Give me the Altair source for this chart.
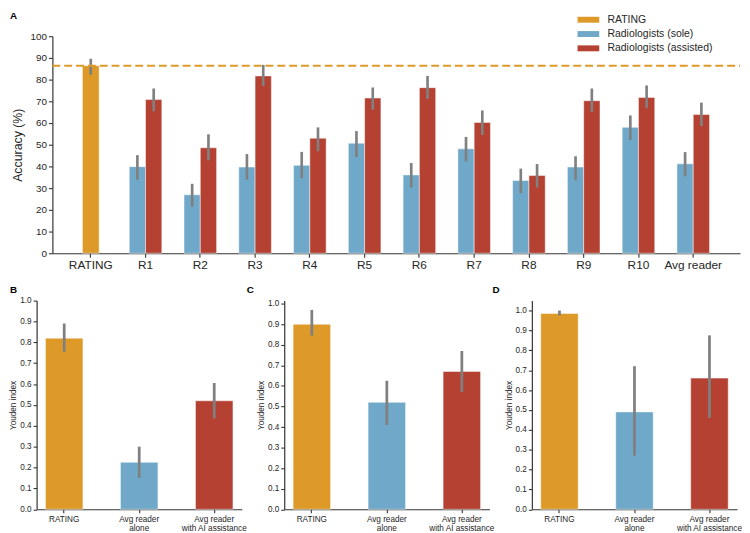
import altair as alt
import pandas as pd

# ---------------- data ----------------
readers = ["R1", "R2", "R3", "R4", "R5", "R6", "R7", "R8", "R9", "R10", "Avg reader"]
categories = ["RATING"] + readers
series_names = ["RATING", "Radiologists (sole)", "Radiologists (assisted)"]
colors = ["#DE9A28", "#6FA8C8", "#B44131"]

rating_acc = [86.4]
rating_lo = [82.2]
rating_hi = [89.6]
rating_ref = [86.4]

sole_acc = [39.9, 26.9, 39.7, 40.5, 50.7, 36.1, 48.1, 33.5, 39.7, 58.0, 41.2]
sole_lo = [33.9, 21.5, 33.9, 34.6, 44.4, 30.3, 42.3, 27.7, 33.6, 52.2, 35.5]
sole_hi = [45.2, 32.0, 45.7, 46.7, 56.3, 41.6, 53.6, 39.0, 44.7, 63.5, 46.6]
assisted_acc = [70.8, 48.6, 81.7, 53.0, 71.5, 76.3, 60.3, 35.8, 70.3, 71.8, 63.9]
assisted_lo = [65.4, 42.8, 77.0, 47.0, 66.1, 71.1, 54.5, 30.3, 65.1, 66.8, 58.6]
assisted_hi = [75.9, 54.8, 86.8, 58.0, 76.4, 81.7, 65.8, 41.1, 75.9, 77.3, 69.4]

youden_groups = ["RATING", "Avg reader\nalone", "Avg reader\nwith AI assistance"]
youden_b = [0.82, 0.225, 0.52]
youden_b_lo = [0.755, 0.15, 0.435]
youden_b_hi = [0.89, 0.30, 0.605]
youden_c = [0.90, 0.52, 0.67]
youden_c_lo = [0.845, 0.41, 0.57]
youden_c_hi = [0.97, 0.625, 0.77]
youden_d = [0.985, 0.49, 0.66]
youden_d_lo = [0.975, 0.27, 0.46]
youden_d_hi = [1.0, 0.72, 0.875]

FONT = "Liberation Sans"
AXIS_COLOR = "#333333"
ERR_COLOR = "#808080"

# ---------------- panel A ----------------
rating_df = pd.DataFrame({"cat": ["RATING"], "series": ["RATING"],
                          "value": rating_acc, "lo": rating_lo, "hi": rating_hi})
reader_df = pd.DataFrame({
    "cat": readers * 2,
    "series": ["Radiologists (sole)"] * len(readers) + ["Radiologists (assisted)"] * len(readers),
    "value": sole_acc + assisted_acc,
    "lo": sole_lo + assisted_lo,
    "hi": sole_hi + assisted_hi,
})
ref_df = pd.DataFrame({"v": rating_ref})
letter_a = pd.DataFrame({"t": ["A"]})

X0_SHIFT = 16
W_TOP = 713
H_TOP = 220

xscale = alt.Scale(domain=categories, range=[X0_SHIFT, W_TOP],
                   paddingInner=0.405, paddingOuter=0.48, align=0.42)
xaxis = alt.Axis(title=None, labelAngle=0, labelFontSize=12, tickSize=4,
                 labelPadding=2, domainWidth=1.2, tickWidth=1.1)
yaxis = alt.Axis(title="Accuracy (%)", values=list(range(0, 101, 10)),
                 offset=-X0_SHIFT, labelFontSize=10, titleFontSize=12.5,
                 tickSize=4, labelPadding=2, titlePadding=6, grid=False,
                 domainWidth=1.2, tickWidth=1.1, titleFontWeight="normal")
yscale = alt.Scale(domain=[0, 100], nice=False)

offset_dom = ["Radiologists (sole)", "Radiologists (assisted)"]

color_top = alt.Color("series:N", scale=alt.Scale(domain=series_names, range=colors),
                      legend=alt.Legend(title=None, orient="none", legendX=554, legendY=-22,
                                        symbolType="M-2.2,-0.6L2.2,-0.6L2.2,0.6L-2.2,0.6Z",
                                        symbolSize=100, symbolStrokeWidth=0,
                                        labelFontSize=10.6, labelOffset=14,
                                        rowPadding=3.5, padding=0, labelColor="#262626"))

bar_style = dict(stroke="white", strokeWidth=0.8, strokeOpacity=0.6)

rating_bar = alt.Chart(rating_df).mark_bar(size=17, **bar_style).encode(
    x=alt.X("cat:N", scale=xscale, axis=xaxis, sort=categories),
    y=alt.Y("value:Q", scale=yscale, axis=yaxis),
    color=color_top,
)
reader_bar = alt.Chart(reader_df).mark_bar(**bar_style).encode(
    x=alt.X("cat:N", scale=xscale, axis=xaxis, sort=categories),
    xOffset=alt.XOffset("series:N", sort=offset_dom,
                        scale=alt.Scale(domain=offset_dom, paddingInner=0, paddingOuter=0)),
    y=alt.Y("value:Q", scale=yscale, axis=yaxis),
    color=color_top,
)
rating_err = alt.Chart(rating_df).mark_rule(color=ERR_COLOR, strokeWidth=2.7).encode(
    x=alt.X("cat:N", scale=xscale, axis=xaxis, sort=categories),
    y=alt.Y("lo:Q", scale=yscale, axis=yaxis),
    y2="hi:Q",
)
reader_err = alt.Chart(reader_df).mark_rule(color=ERR_COLOR, strokeWidth=2.7).encode(
    x=alt.X("cat:N", scale=xscale, axis=xaxis, sort=categories),
    xOffset=alt.XOffset("series:N", sort=offset_dom,
                        scale=alt.Scale(domain=offset_dom, paddingInner=0, paddingOuter=0)),
    y=alt.Y("lo:Q", scale=yscale, axis=yaxis),
    y2="hi:Q",
)
ref_line = alt.Chart(ref_df).mark_rule(color=colors[0], strokeWidth=2.2, strokeDash=[8, 4]).encode(
    y=alt.Y("v:Q", scale=yscale, axis=yaxis),
    x=alt.value(X0_SHIFT),
    x2=alt.value(W_TOP),
)
a_text = alt.Chart(letter_a).mark_text(fontWeight="bold", fontSize=10, align="left",
                                       baseline="top", font=FONT, color="black").encode(
    text="t:N", x=alt.value(-27), y=alt.value(-25))

top = alt.layer(rating_bar, reader_bar, rating_err, reader_err, ref_line, a_text).properties(
    width=W_TOP, height=H_TOP)


# ---------------- panels B, C, D ----------------
def panel(letter, vals, lo, hi, ymax, letter_x):
    df = pd.DataFrame({"grp": youden_groups, "value": vals, "lo": lo, "hi": hi})
    ldf = pd.DataFrame({"t": [letter]})
    xs = alt.Scale(domain=youden_groups, paddingInner=0.5, paddingOuter=0.118)
    xa = alt.Axis(title=None, labelAngle=0, labelFontSize=8.3, labelLineHeight=8.8,
                  labelExpr="split(datum.label, '\\n')", tickSize=3.5, labelPadding=2,
                  domainWidth=1.2, tickWidth=1.1)
    ys = alt.Scale(domain=[0, ymax], nice=False)
    ya = alt.Axis(title="Youden index", values=[i / 10 for i in range(11)], format=".1f",
                  labelFontSize=8.3, titleFontSize=8.3, tickSize=3.5, labelPadding=2,
                  titlePadding=2, grid=False, domainWidth=1.2, tickWidth=1.1,
                  titleFontWeight="normal")
    bars = alt.Chart(df).mark_bar(size=38, **bar_style).encode(
        x=alt.X("grp:N", scale=xs, axis=xa, sort=youden_groups),
        y=alt.Y("value:Q", scale=ys, axis=ya),
        color=alt.Color("grp:N", scale=alt.Scale(domain=youden_groups, range=colors), legend=None),
    )
    err = alt.Chart(df).mark_rule(color=ERR_COLOR, strokeWidth=2.8).encode(
        x=alt.X("grp:N", scale=xs, axis=xa, sort=youden_groups),
        y=alt.Y("lo:Q", scale=ys, axis=ya),
        y2="hi:Q",
    )
    lt = alt.Chart(ldf).mark_text(fontWeight="bold", fontSize=10, align="left",
                                  baseline="top", font=FONT, color="black").encode(
        text="t:N", x=alt.value(letter_x), y=alt.value(-16))
    return alt.layer(bars, err, lt).properties(width=208, height=211.5)


pb = panel("B", youden_b, youden_b_lo, youden_b_hi, 1.0, -27)
pc = panel("C", youden_c, youden_c_lo, youden_c_hi, 1.015, -38)
pd_ = panel("D", youden_d, youden_d_lo, youden_d_hi, 1.05, -40)

bottom = alt.hconcat(pb, pc, pd_, spacing=43, bounds="flush")

chart = alt.vconcat(top, bottom, spacing=48, bounds="flush").resolve_scale(
    color="independent"
).properties(padding=0).configure_view(stroke=None).configure_axis(
    domainColor=AXIS_COLOR, tickColor=AXIS_COLOR, labelColor="#262626",
    titleColor="#262626", labelFont=FONT, titleFont=FONT
).configure_legend(labelFont=FONT).configure_text(font=FONT)

chart.save("out.html", embed_options={"renderer": "svg", "actions": False})
